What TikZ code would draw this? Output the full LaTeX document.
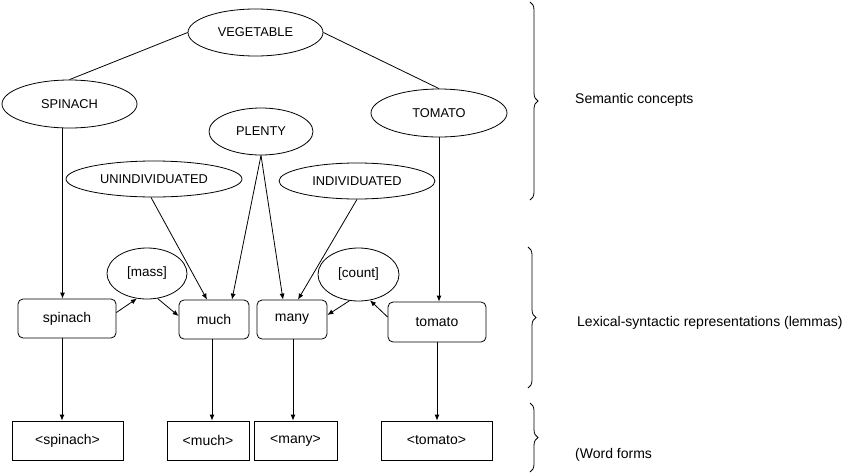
\documentclass[tikz,border=0pt]{standalone}
\usepackage{fontspec}
\setmainfont{Liberation Sans}
\usetikzlibrary{shapes.geometric,arrows.meta,calc,decorations.pathreplacing}
\begin{document}
\begin{tikzpicture}[x=1pt,y=-1pt,
  ov/.style={draw,ellipse,line width=0.8pt,inner sep=0pt,font=\fontsize{12.8}{14}\selectfont},
  lem/.style={draw,rounded corners=5pt,line width=0.8pt,inner sep=0pt,minimum height=39pt,font=\fontsize{14}{16}\selectfont},
  wf/.style={draw,line width=0.8pt,inner sep=0pt,minimum height=39pt,font=\fontsize{14}{16}\selectfont},
  ln/.style={line width=0.8pt},
  arr/.style={line width=0.8pt,-{Latex[length=6pt,width=5pt]}},
  br/.style={line width=0.8pt,decorate,decoration={brace,amplitude=8pt}},
  lab/.style={anchor=west,inner sep=0pt,font=\fontsize{14}{16}\selectfont}]
\useasboundingbox (0,0) rectangle (851,474);
% concepts
\node[ov,minimum width=135pt,minimum height=47pt] (veg) at (255.5,32.5) {VEGETABLE};
\node[ov,minimum width=135pt,minimum height=48pt] (spinach) at (69.5,104) {SPINACH};
\node[ov,minimum width=136pt,minimum height=48pt] (tomato) at (439,113) {TOMATO};
\node[ov,minimum width=104pt,minimum height=47pt] (plenty) at (261,131.5) {PLENTY};
\node[ov,minimum width=176pt,minimum height=36pt] (unind) at (154,179) {UNINDIVIDUATED};
\node[ov,minimum width=156pt,minimum height=36pt] (ind) at (357,181) {INDIVIDUATED};
\node[ov,minimum width=80pt,minimum height=51pt,font=\fontsize{13.5}{15}\selectfont] (mass) at (147,273.5) {[mass]};
\node[ov,minimum width=81pt,minimum height=53pt,font=\fontsize{13.5}{15}\selectfont] (count) at (358.5,274.5) {[count]};
% lemmas
\node[lem,minimum width=98pt] (sbox) at (67,318.5) {spinach};
\node[lem,minimum width=70pt] (much) at (214,319.5) {much};
\node[lem,minimum width=70pt] (many) at (292,319.5) {many};
\node[lem,minimum width=98pt,minimum height=40pt] (tbox) at (437,322) {tomato};
% word forms
\node[wf,minimum width=111pt] (swf) at (67.5,440.5) {<spinach>};
\node[wf,minimum width=82pt] (mwf) at (208,440.5) {<much>};
\node[wf,minimum width=83pt] (nwf) at (295.5,440.5) {<many>};
\node[wf,minimum width=111pt] (twf) at (436.5,440.5) {<tomato>};
% connectors
\draw[ln] (veg.west) -- (spinach.north);
\draw[ln] (veg.east) -- (tomato.north);
\coordinate (s1) at ($(spinach.south)+(-7,0)$);
\draw[arr] (s1) -- (s1 |- sbox.north);
\draw[arr] (tomato.south) -- (tomato.south |- tbox.north);
\coordinate (mu1) at ($(much.north)+(18,0)$);
\coordinate (mu2) at ($(much.north)+(-7,0)$);
\coordinate (ma1) at ($(many.north)+(-9,0)$);
\coordinate (ma2) at ($(many.north)+(6,0)$);
\draw[arr] (plenty.south) -- (mu1);
\draw[arr] (plenty.south) -- (ma1);
\draw[arr] ($(unind.south)+(-3,0)$) -- (mu2);
\draw[arr] (ind.south) -- (ma2);
\draw[arr] ($(sbox.east)+(0,-6)$) -- (mass.248);
\draw[arr] (mass.293) -- ($(much.west)+(0,-3.5)$);
\draw[arr] (count.251) -- ($(many.east)+(0,-4.5)$);
\draw[arr] ($(tbox.west)+(0,-5)$) -- (count.294);
\coordinate (s2) at ($(sbox.south)+(-5,0)$);
\draw[arr] (s2) -- (s2 |- swf.north);
\coordinate (m2) at ($(much.south)+(-2,0)$);
\draw[arr] (m2) -- (m2 |- mwf.north);
\coordinate (n2) at ($(many.south)+(1,0)$);
\draw[arr] (n2) -- (n2 |- nwf.north);
\draw[arr] (tbox.south) -- (tbox.south |- twf.north);
% braces
\draw[br] (530,2) -- (530,200);
\draw[br] (528,247) -- (528,388);
\draw[br] (530,403) -- (530,472);
\node[lab] (l1) at (575,100) {Semantic concepts};
\node[lab] (l2) at (577,323) {Lexical-syntactic representations (lemmas)};
\node[lab] (l3) at (575,455) {(Word forms};
\end{tikzpicture}
\end{document}
